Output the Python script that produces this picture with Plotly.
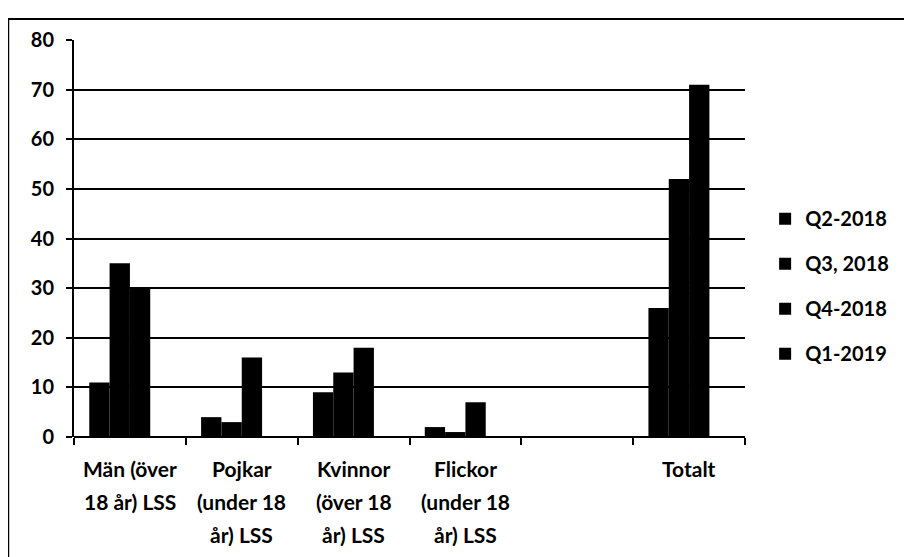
import plotly.graph_objects as go

categories = [
    "Män (över<br>18 år) LSS",
    "Pojkar<br>(under 18<br>år) LSS",
    "Kvinnor<br>(över 18<br>år) LSS",
    "Flickor<br>(under 18<br>år) LSS",
    "",
    "Totalt",
]
series_names = ["Q2-2018", "Q3, 2018", "Q4-2018", "Q1-2019"]
q2_2018 = [11, 4, 9, 2, 0, 26]
q3_2018 = [35, 3, 13, 1, 0, 52]
q4_2018 = [30, 16, 18, 7, 0, 71]
q1_2019 = [0, 0, 0, 0, 0, 0]
y_ticks = [0, 10, 20, 30, 40, 50, 60, 70, 80]

FONT = "Lato"
WEIGHT = "bold"
values = [q2_2018, q3_2018, q4_2018, q1_2019]
xs = list(range(len(categories)))

fig = go.Figure()
for i, (name, vals) in enumerate(zip(series_names, values)):
    fig.add_trace(go.Bar(
        x=xs, y=vals, name=name,
        marker=dict(color="black", line=dict(width=0)),
        legendgroup=f"g{i}",
    ))

# multi-line category labels as annotations (for Excel-like line spacing)
annotations = []
for xi, label in zip(xs, categories):
    if not label:
        continue
    for li, line in enumerate(label.split("<br>")):
        annotations.append(dict(
            x=xi, y=0, xref="x", yref="paper",
            text=line, showarrow=False,
            yanchor="middle", xanchor="center",
            yshift=-31 - 33 * li,
            font=dict(family=FONT, size=21, color="black", weight=WEIGHT),
        ))

fig.update_layout(
    width=904, height=549,
    margin=dict(l=66, r=167, t=32, b=120),
    paper_bgcolor="white", plot_bgcolor="white",
    barmode="group", bargap=0.273, bargroupgap=0,
    font=dict(family=FONT, size=20, color="black", weight=WEIGHT),
    legend=dict(
        x=1.03, xanchor="left", y=0.38, yanchor="middle",
        font=dict(family=FONT, size=20, color="black", weight=WEIGHT),
        tracegroupgap=16, traceorder="grouped",
        bgcolor="rgba(0,0,0,0)",
    ),
    annotations=annotations,
    showlegend=True,
)
fig.update_xaxes(
    type="linear", range=[-0.5, len(categories) - 0.5],
    tickvals=[x - 0.5 for x in xs] + [len(categories) - 0.5],
    showticklabels=False,
    ticks="outside", ticklen=7, tickwidth=2, tickcolor="black",
    showgrid=False, zeroline=False, showline=False,
)
fig.update_yaxes(
    range=[0, 80], tickvals=y_ticks,
    showgrid=True, gridcolor="black", gridwidth=2,
    zeroline=True, zerolinecolor="black", zerolinewidth=2,
    showline=True, linecolor="black", linewidth=2,
    ticks="outside", ticklen=6, tickwidth=2, tickcolor="black",
    ticklabelstandoff=8,
    tickfont=dict(family=FONT, size=20, color="black", weight=WEIGHT),
)
# outer chart border
fig.add_shape(type="rect", xref="paper", yref="paper",
              x0=-0.098, x1=1.243, y0=-0.5, y1=1.053,
              line=dict(color="black", width=2), fillcolor="rgba(0,0,0,0)",
              layer="below")

fig.write_html("out.html")
